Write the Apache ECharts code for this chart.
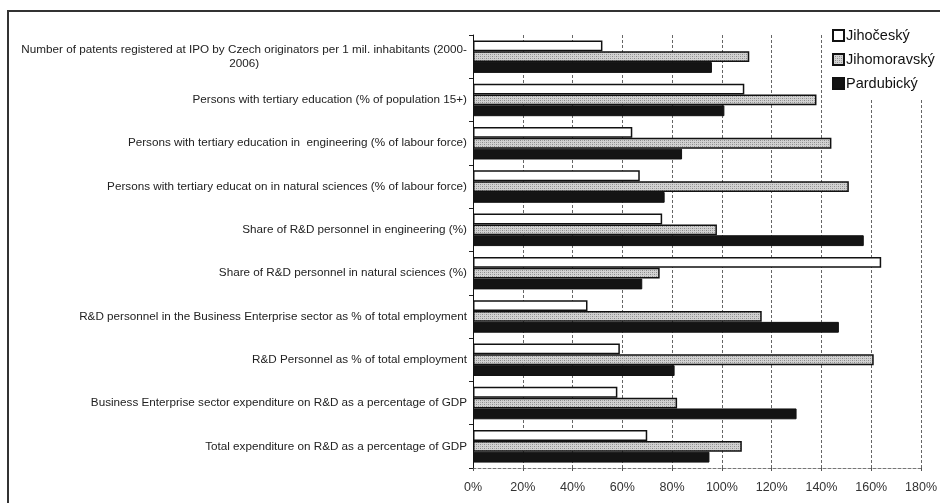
<!DOCTYPE html>
<html>
<head>
<meta charset="utf-8">
<script src="https://cdn.jsdelivr.net/npm/echarts@6/dist/echarts.min.js"></script>
<style>
  html, body { margin: 0; padding: 0; background: #fff; }
  #chart { width: 940px; height: 503px; }
</style>
</head>
<body>
<div id="chart"></div>
<script>
// Indicators, listed top to bottom
const categories = [
  'Number of patents registered at IPO by Czech originators per 1 mil. inhabitants (2000-\n2006)',
  'Persons with tertiary education (% of population 15+)',
  'Persons with tertiary education in  engineering (% of labour force)',
  'Persons with tertiary educat on in natural sciences (% of labour force)',
  'Share of R&D personnel in engineering (%)',
  'Share of R&D personnel in natural sciences (%)',
  'R&D personnel in the Business Enterprise sector as % of total employment',
  'R&D Personnel as % of total employment',
  'Business Enterprise sector expenditure on R&D as a percentage of GDP',
  'Total expenditure on R&D as a percentage of GDP'
];

const seriesNames = ['Jihočeský', 'Jihomoravský', 'Pardubický'];

// Regional values relative to the national level (%)
const jihocesky    = [52, 109, 64, 67, 76, 164, 46, 59, 58, 70];
const jihomoravsky = [111, 138, 144, 151, 98, 75, 116, 161, 82, 108];
const pardubicky   = [96, 101, 84, 77, 157, 68, 147, 81, 130, 95];

const xTicks = { min: 0, max: 180, step: 20 };

// Halftone grey fill for the middle series
function halftone() {
  const c = document.createElement('canvas');
  c.width = 4; c.height = 4;
  const g = c.getContext('2d');
  g.fillStyle = '#d2d2d2';
  g.fillRect(0, 0, 4, 4);
  g.fillStyle = '#8a8a8a';
  g.fillRect(0, 0, 1, 1);
  g.fillRect(2, 2, 1, 1);
  g.fillStyle = '#a8a8a8';
  g.fillRect(2, 0, 1, 1);
  g.fillRect(0, 2, 1, 1);
  return { image: c, repeat: 'repeat' };
}

const chart = echarts.init(document.getElementById('chart'), null, { renderer: 'canvas' });

const font = 'Liberation Sans, Arial, sans-serif';

chart.setOption({
  animation: false,
  backgroundColor: '#fff',
  textStyle: { fontFamily: font },
  graphic: [{
    type: 'rect',
    z: 100,
    silent: true,
    shape: { x: 8, y: 11, width: 1000, height: 1000 },
    style: { fill: 'none', stroke: '#333', lineWidth: 2 }
  }],
  legend: {
    orient: 'vertical',
    left: 826,
    top: 24,
    padding: [4, 20, 8, 6],
    backgroundColor: '#fff',
    itemWidth: 11,
    itemHeight: 11,
    itemGap: 9,
    icon: 'rect',
    textStyle: { fontFamily: font, fontSize: 14.5, color: '#111', lineHeight: 15, padding: [0, 0, 0, -3] },
    data: seriesNames
  },
  grid: { left: 473, right: 18, top: 35, bottom: 35, containLabel: false },
  xAxis: {
    type: 'value',
    min: xTicks.min,
    max: xTicks.max,
    interval: xTicks.step,
    axisLine: { show: true, lineStyle: { color: '#777', type: [3, 2], width: 1 } },
    axisTick: { show: true, length: 3, lineStyle: { color: '#555' } },
    axisLabel: { formatter: '{value}%', fontSize: 12.5, color: '#333', margin: 13, fontFamily: font },
    splitLine: { show: true, lineStyle: { color: '#666', type: [3, 2], width: 1 } }
  },
  yAxis: {
    type: 'category',
    inverse: true,
    data: categories,
    axisLine: { show: true, lineStyle: { color: '#111', width: 1 } },
    axisTick: { show: true, length: 4, lineStyle: { color: '#222' } },
    axisLabel: {
      margin: 6,
      align: 'right',
      color: '#222',
      fontSize: 11.7,
      fontFamily: font,
      formatter: v => v.split('\n').map(s => '{c|' + s + '}').join('\n'),
      rich: { c: { align: 'center', fontSize: 11.7, lineHeight: 14, color: '#222', fontFamily: font } }
    }
  },
  series: [
    {
      name: seriesNames[0], type: 'bar', data: jihocesky,
      barGap: '0%', barCategoryGap: '25%',
      itemStyle: { color: '#fff', borderColor: '#111', borderWidth: 1.5 }
    },
    {
      name: seriesNames[1], type: 'bar', data: jihomoravsky,
      barGap: '0%', barCategoryGap: '25%',
      itemStyle: { color: halftone(), borderColor: '#111', borderWidth: 1.5 }
    },
    {
      name: seriesNames[2], type: 'bar', data: pardubicky,
      barGap: '0%', barCategoryGap: '25%',
      itemStyle: { color: '#141414', borderColor: '#111', borderWidth: 1 }
    }
  ]
});
</script>
</body>
</html>
